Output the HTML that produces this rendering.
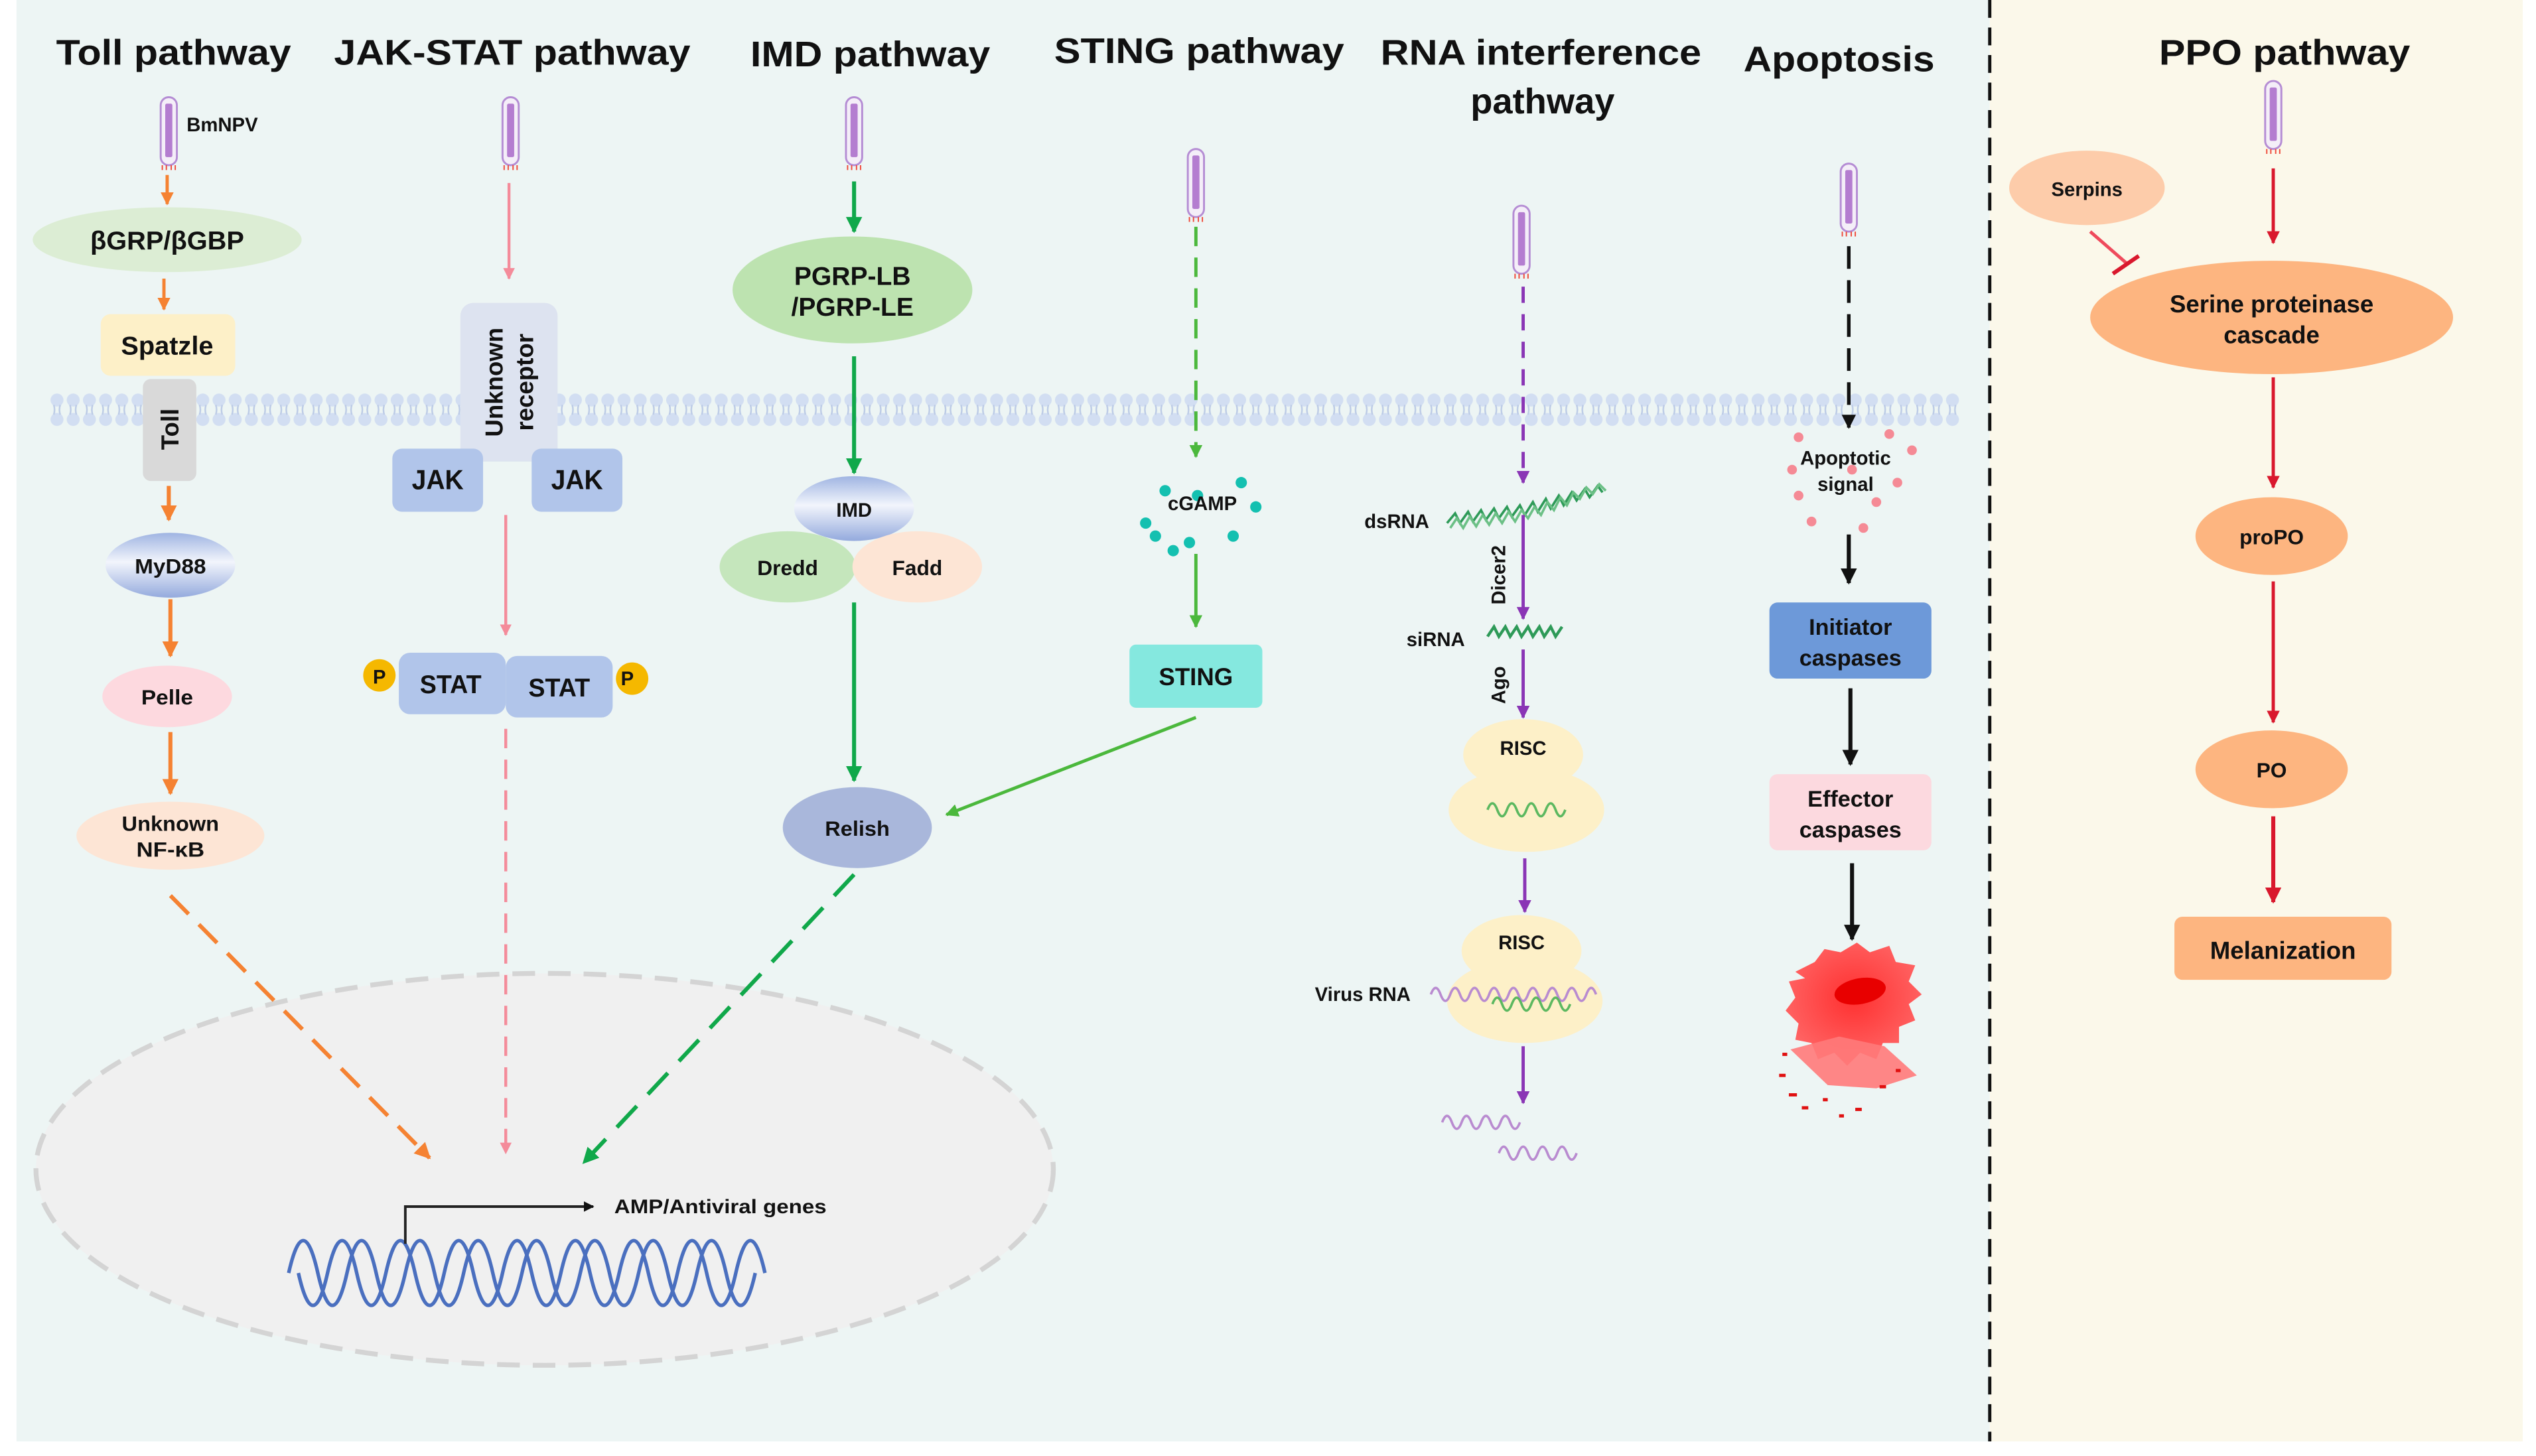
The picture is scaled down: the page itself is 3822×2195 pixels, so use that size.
<!DOCTYPE html>
<html><head><meta charset="utf-8"><style>
html,body{margin:0;padding:0;background:#fff;}
svg{display:block;}
text{font-family:"Liberation Sans",Arial,sans-serif;font-weight:bold;fill:#111;}
</style></head><body>
<svg width="3822" height="2195" viewBox="0 0 1565 899" xmlns="http://www.w3.org/2000/svg">
<defs>
<marker id="mo" viewBox="0 0 10 10" refX="9" refY="5" markerWidth="4" markerHeight="4" orient="auto"><path d="M0,0L10,5L0,10z" fill="#f58232"/></marker>
<marker id="mp" viewBox="0 0 10 10" refX="9" refY="5" markerWidth="4" markerHeight="4" orient="auto"><path d="M0,0L10,5L0,10z" fill="#f48b9a"/></marker>
<marker id="mg" viewBox="0 0 10 10" refX="9" refY="5" markerWidth="4" markerHeight="4" orient="auto"><path d="M0,0L10,5L0,10z" fill="#10a84a"/></marker>
<marker id="mg2" viewBox="0 0 10 10" refX="9" refY="5" markerWidth="4" markerHeight="4" orient="auto"><path d="M0,0L10,5L0,10z" fill="#4bb83c"/></marker>
<marker id="mv" viewBox="0 0 10 10" refX="9" refY="5" markerWidth="4" markerHeight="4" orient="auto"><path d="M0,0L10,5L0,10z" fill="#8a35b5"/></marker>
<marker id="mk" viewBox="0 0 10 10" refX="9" refY="5" markerWidth="4" markerHeight="4" orient="auto"><path d="M0,0L10,5L0,10z" fill="#111"/></marker>
<marker id="mr" viewBox="0 0 10 10" refX="9" refY="5" markerWidth="4" markerHeight="4" orient="auto"><path d="M0,0L10,5L0,10z" fill="#d9182d"/></marker>
<linearGradient id="gb" x1="0" y1="0" x2="0" y2="1"><stop offset="0" stop-color="#9fb4e2"/><stop offset="0.45" stop-color="#f2f5fc"/><stop offset="1" stop-color="#94aadd"/></linearGradient>
<radialGradient id="gc" cx="0.5" cy="0.45" r="0.6"><stop offset="0" stop-color="#ff3030"/><stop offset="1" stop-color="#ff6a6a"/></radialGradient>
<pattern id="mem" x="30" y="243" width="10" height="20" patternUnits="userSpaceOnUse">
<circle cx="5" cy="4" r="4" fill="#d2def2"/><circle cx="5" cy="16" r="4" fill="#d2def2"/>
<path d="M3,7 Q4,10 3,13 M7,7 Q6,10 7,13" stroke="#bccbe6" stroke-width="1" fill="none"/>
</pattern>
<g id="vir">
<rect x="-5" y="0" width="10" height="42" rx="5" fill="#f4eef8" stroke="#b58dd4" stroke-width="1.2"/>
<rect x="-2.2" y="4" width="4.4" height="33" rx="1" fill="#b47dd0"/>
<path d="M-4,42v3M-1.5,42v3M1.5,42v3M4,42v3" stroke="#f04a3a" stroke-width="0.8"/>
</g>
</defs>
<rect x="0" y="0" width="1565" height="899" fill="#fff"/>
<rect x="10" y="0" width="1218" height="890" fill="#edf5f4"/>
<rect x="1228" y="0" width="329" height="890" fill="#fbf8ea"/>
<line x1="1228" y1="0" x2="1228" y2="890" stroke="#111" stroke-width="2" stroke-dasharray="11,6"/>

<g font-size="22" text-anchor="middle">
<text x="107" y="40" textLength="145" lengthAdjust="spacingAndGlyphs">Toll pathway</text>
<text x="316" y="40" textLength="220" lengthAdjust="spacingAndGlyphs">JAK-STAT pathway</text>
<text x="537" y="41" textLength="148" lengthAdjust="spacingAndGlyphs">IMD pathway</text>
<text x="740" y="39" textLength="179" lengthAdjust="spacingAndGlyphs">STING pathway</text>
<text x="951" y="40" textLength="198" lengthAdjust="spacingAndGlyphs">RNA interference</text>
<text x="952" y="70" textLength="89" lengthAdjust="spacingAndGlyphs">pathway</text>
<text x="1135" y="44" textLength="118" lengthAdjust="spacingAndGlyphs">Apoptosis</text>
<text x="1410" y="40" textLength="155" lengthAdjust="spacingAndGlyphs">PPO pathway</text>
</g>

<rect x="30" y="243" width="1180" height="20" fill="url(#mem)"/>

<ellipse cx="336" cy="722" rx="314" ry="121" fill="#f0f0f0" stroke="#d4d4d4" stroke-width="3" stroke-dasharray="14,8"/>
<g fill="none" stroke="#4a6fbf" stroke-width="2.2">
<path d="M178,786 q9,-40 18,0 t18,0 t18,0 t18,0 t18,0 t18,0 t18,0 t18,0 t18,0 t18,0 t18,0 t18,0 t18,0 t18,0 t18,0 t18,0"/>
<path d="M184,766 q9,40 18,0 t18,0 t18,0 t18,0 t18,0 t18,0 t18,0 t18,0 t18,0 t18,0 t18,0 t18,0 t18,0 t18,0 t18,0 t18,0" transform="translate(0,20)"/>
</g>
<path d="M250,768 V745 H366" fill="none" stroke="#222" stroke-width="1.6" marker-end="url(#mk)"/>
<text x="379" y="749" font-size="12" textLength="131" lengthAdjust="spacingAndGlyphs">AMP/Antiviral genes</text>

<use href="#vir" x="104" y="60"/>
<text x="115" y="81" font-size="12">BmNPV</text>
<line x1="103" y1="108" x2="103" y2="126" stroke="#f58232" stroke-width="2" marker-end="url(#mo)"/>
<ellipse cx="103" cy="148" rx="83" ry="20" fill="#dcedd4"/>
<text x="103" y="154" font-size="16" text-anchor="middle" textLength="95" lengthAdjust="spacingAndGlyphs">βGRP/βGBP</text>
<line x1="101" y1="172" x2="101" y2="191" stroke="#f58232" stroke-width="2" marker-end="url(#mo)"/>
<rect x="62" y="194" width="83" height="38" rx="6" fill="#fdf0c8"/>
<text x="103" y="219" font-size="16" text-anchor="middle" textLength="57" lengthAdjust="spacingAndGlyphs">Spatzle</text>
<rect x="88" y="234" width="33" height="63" rx="5" fill="#d9d9d9"/>
<text transform="translate(110,265) rotate(-90)" font-size="15" text-anchor="middle">Toll</text>
<line x1="104" y1="300" x2="104" y2="321" stroke="#f58232" stroke-width="2.5" marker-end="url(#mo)"/>
<ellipse cx="105" cy="349" rx="40" ry="20" fill="url(#gb)"/>
<text x="105" y="354" font-size="13" text-anchor="middle" textLength="44" lengthAdjust="spacingAndGlyphs">MyD88</text>
<line x1="105" y1="370" x2="105" y2="405" stroke="#f58232" stroke-width="2.5" marker-end="url(#mo)"/>
<ellipse cx="103" cy="430" rx="40" ry="19" fill="#fdd9df"/>
<text x="103" y="435" font-size="13" text-anchor="middle" textLength="32" lengthAdjust="spacingAndGlyphs">Pelle</text>
<line x1="105" y1="452" x2="105" y2="490" stroke="#f58232" stroke-width="2.5" marker-end="url(#mo)"/>
<ellipse cx="105" cy="516" rx="58" ry="21" fill="#fde5d5"/>
<text x="105" y="513" font-size="13" text-anchor="middle" textLength="60" lengthAdjust="spacingAndGlyphs">Unknown</text>
<text x="105" y="529" font-size="13" text-anchor="middle" textLength="42" lengthAdjust="spacingAndGlyphs">NF-κB</text>
<line x1="105" y1="553" x2="265" y2="715" stroke="#f58232" stroke-width="2.5" stroke-dasharray="16,9" marker-end="url(#mo)"/>

<use href="#vir" x="315" y="60"/>
<line x1="314" y1="113" x2="314" y2="172" stroke="#f48b9a" stroke-width="1.8" marker-end="url(#mp)"/>
<rect x="284" y="187" width="60" height="98" rx="8" fill="#dde3f0"/>
<text transform="translate(310,236) rotate(-90)" font-size="15" text-anchor="middle">Unknown</text>
<text transform="translate(329,236) rotate(-90)" font-size="15" text-anchor="middle">receptor</text>
<rect x="242" y="277" width="56" height="39" rx="6" fill="#b1c5ea"/>
<rect x="328" y="277" width="56" height="39" rx="6" fill="#b1c5ea"/>
<text x="270" y="302" font-size="17" text-anchor="middle" textLength="32" lengthAdjust="spacingAndGlyphs">JAK</text>
<text x="356" y="302" font-size="17" text-anchor="middle" textLength="32" lengthAdjust="spacingAndGlyphs">JAK</text>
<line x1="312" y1="318" x2="312" y2="392" stroke="#f48b9a" stroke-width="1.8" marker-end="url(#mp)"/>
<circle cx="234" cy="417" r="10" fill="#f5b800"/><circle cx="390" cy="419" r="10" fill="#f5b800"/>
<text x="234" y="422" font-size="12" text-anchor="middle">P</text>
<text x="387" y="423" font-size="12" text-anchor="middle">P</text>
<rect x="246" y="403" width="66" height="38" rx="7" fill="#b1c5ea"/>
<rect x="312" y="405" width="66" height="38" rx="7" fill="#b1c5ea"/>
<text x="278" y="428" font-size="16" text-anchor="middle" textLength="38" lengthAdjust="spacingAndGlyphs">STAT</text>
<text x="345" y="430" font-size="16" text-anchor="middle" textLength="38" lengthAdjust="spacingAndGlyphs">STAT</text>
<line x1="312" y1="450" x2="312" y2="712" stroke="#f48b9a" stroke-width="1.8" stroke-dasharray="12,7" marker-end="url(#mp)"/>

<use href="#vir" x="527" y="60"/>
<line x1="527" y1="112" x2="527" y2="143" stroke="#10a84a" stroke-width="2.5" marker-end="url(#mg)"/>
<ellipse cx="526" cy="179" rx="74" ry="33" fill="#bde3b0"/>
<text x="526" y="176" font-size="16" text-anchor="middle">PGRP-LB</text>
<text x="526" y="195" font-size="16" text-anchor="middle">/PGRP-LE</text>
<line x1="527" y1="220" x2="527" y2="292" stroke="#10a84a" stroke-width="2.5" marker-end="url(#mg)"/>
<ellipse cx="527" cy="314" rx="37" ry="20" fill="url(#gb)"/>
<text x="527" y="319" font-size="12" text-anchor="middle">IMD</text>
<ellipse cx="486" cy="350" rx="42" ry="22" fill="#c5e6bc"/>
<ellipse cx="566" cy="350" rx="40" ry="22" fill="#fde5d5"/>
<text x="486" y="355" font-size="13" text-anchor="middle">Dredd</text>
<text x="566" y="355" font-size="13" text-anchor="middle">Fadd</text>
<line x1="527" y1="372" x2="527" y2="482" stroke="#10a84a" stroke-width="2.5" marker-end="url(#mg)"/>
<ellipse cx="529" cy="511" rx="46" ry="25" fill="#a9b7db"/>
<text x="529" y="516" font-size="13" text-anchor="middle" textLength="40" lengthAdjust="spacingAndGlyphs">Relish</text>
<line x1="527" y1="540" x2="360" y2="718" stroke="#10a84a" stroke-width="2.5" stroke-dasharray="18,10" marker-end="url(#mg)"/>

<use href="#vir" x="738" y="92"/>
<line x1="738" y1="140" x2="738" y2="282" stroke="#4bb83c" stroke-width="2" stroke-dasharray="12,7" marker-end="url(#mg2)"/>
<g fill="#14c0b0">
<circle cx="719" cy="303" r="3.5"/><circle cx="739" cy="306" r="3.5"/><circle cx="766" cy="298" r="3.5"/>
<circle cx="707" cy="323" r="3.5"/><circle cx="775" cy="313" r="3.5"/><circle cx="713" cy="331" r="3.5"/>
<circle cx="734" cy="335" r="3.5"/><circle cx="761" cy="331" r="3.5"/><circle cx="724" cy="340" r="3.5"/>
</g>
<text x="742" y="315" font-size="12" text-anchor="middle">cGAMP</text>
<line x1="738" y1="342" x2="738" y2="387" stroke="#4bb83c" stroke-width="2" marker-end="url(#mg2)"/>
<rect x="697" y="398" width="82" height="39" rx="4" fill="#85e8df"/>
<text x="738" y="423" font-size="15" text-anchor="middle">STING</text>
<line x1="738" y1="443" x2="584" y2="503" stroke="#4bb83c" stroke-width="2" marker-end="url(#mg2)"/>

<use href="#vir" x="939" y="127"/>
<line x1="940" y1="177" x2="940" y2="298" stroke="#8a35b5" stroke-width="2" stroke-dasharray="10,7" marker-end="url(#mv)"/>
<text x="862" y="326" font-size="12" text-anchor="middle">dsRNA</text>
<g fill="none" stroke="#2e9a58" stroke-width="1.5">
<path d="M893,323 l5,-6 l3,6 l5,-7 l3,6 l5,-7 l3,6 l5,-7 l3,6 l5,-7 l3,6 l5,-7 l3,6 l5,-8 l3,6 l5,-8 l3,6 l5,-8 l3,6 l5,-8 l3,5 l5,-7 l3,5 l5,-7 l3,4"/>
<path d="M895,326 l4,-6 l4,6 l4,-7 l4,6 l4,-7 l4,6 l4,-7 l4,6 l4,-7 l4,6 l4,-7 l4,5 l4,-7 l4,5 l4,-8 l4,5 l4,-8 l4,5 l4,-8 l4,4 l4,-7 l4,4 l4,-6 l4,4" stroke="#6cc086"/>
</g>
<line x1="940" y1="318" x2="940" y2="382" stroke="#8a35b5" stroke-width="2" marker-end="url(#mv)"/>
<text transform="translate(929,355) rotate(-90)" font-size="12" text-anchor="middle">Dicer2</text>
<text x="886" y="399" font-size="12" text-anchor="middle">siRNA</text>
<path d="M918,393 l4,-6 l3,6 l4,-6 l3,6 l4,-6 l3,6 l4,-6 l3,6 l4,-6 l3,6 l4,-6 l3,6 l4,-6" fill="none" stroke="#2e9a58" stroke-width="1.8"/>
<line x1="940" y1="401" x2="940" y2="443" stroke="#8a35b5" stroke-width="2" marker-end="url(#mv)"/>
<text transform="translate(929,423) rotate(-90)" font-size="12" text-anchor="middle">Ago</text>
<g fill="#fdf0c8">
<ellipse cx="940" cy="466" rx="37" ry="22"/><ellipse cx="942" cy="500" rx="48" ry="26"/>
<ellipse cx="939" cy="587" rx="37" ry="22"/><ellipse cx="941" cy="618" rx="48" ry="26"/>
</g>
<text x="940" y="466" font-size="12" text-anchor="middle">RISC</text>
<text x="939" y="586" font-size="12" text-anchor="middle">RISC</text>
<path d="M918,500 q3,-8 6,0 t6,0 t6,0 t6,0 t6,0 t6,0 t6,0 t6,0" fill="none" stroke="#5cb860" stroke-width="1.5"/>
<line x1="941" y1="530" x2="941" y2="563" stroke="#8a35b5" stroke-width="2" marker-end="url(#mv)"/>
<text x="841" y="618" font-size="12" text-anchor="middle">Virus RNA</text>
<path d="M883,614 q3,-8 6,0 t6,0 t6,0 t6,0 t6,0 t6,0 t6,0 t6,0 t6,0 t6,0 t6,0 t6,0 t6,0 t6,0 t6,0 t6,0 t6,0" fill="none" stroke="#b98bd0" stroke-width="1.5"/>
<path d="M921,620 q3,-8 6,0 t6,0 t6,0 t6,0 t6,0 t6,0 t6,0 t6,0" fill="none" stroke="#5cb860" stroke-width="1.5"/>
<line x1="940" y1="646" x2="940" y2="681" stroke="#8a35b5" stroke-width="2" marker-end="url(#mv)"/>
<path d="M890,693 q3,-8 6,0 t6,0 t6,0 t6,0 t6,0 t6,0 t6,0 t6,0" fill="none" stroke="#b98bd0" stroke-width="1.5"/>
<path d="M925,712 q3,-8 6,0 t6,0 t6,0 t6,0 t6,0 t6,0 t6,0 t6,0" fill="none" stroke="#b98bd0" stroke-width="1.5"/>

<use href="#vir" x="1141" y="101"/>
<line x1="1141" y1="152" x2="1141" y2="264" stroke="#111" stroke-width="2.2" stroke-dasharray="14,7" marker-end="url(#mk)"/>
<g fill="#f58a95">
<circle cx="1110" cy="270" r="3"/><circle cx="1166" cy="268" r="3"/><circle cx="1180" cy="278" r="3"/>
<circle cx="1106" cy="290" r="3"/><circle cx="1143" cy="290" r="3"/><circle cx="1171" cy="298" r="3"/>
<circle cx="1110" cy="306" r="3"/><circle cx="1158" cy="310" r="3"/><circle cx="1118" cy="322" r="3"/>
<circle cx="1150" cy="326" r="3"/>
</g>
<text x="1139" y="287" font-size="12" text-anchor="middle">Apoptotic</text>
<text x="1139" y="303" font-size="12" text-anchor="middle">signal</text>
<line x1="1141" y1="330" x2="1141" y2="360" stroke="#111" stroke-width="2.5" marker-end="url(#mk)"/>
<rect x="1092" y="372" width="100" height="47" rx="5" fill="#6d99d9"/>
<text x="1142" y="392" font-size="14" text-anchor="middle">Initiator</text>
<text x="1142" y="411" font-size="14" text-anchor="middle">caspases</text>
<line x1="1142" y1="425" x2="1142" y2="472" stroke="#111" stroke-width="2.5" marker-end="url(#mk)"/>
<rect x="1092" y="478" width="100" height="47" rx="5" fill="#fcd9df"/>
<text x="1142" y="498" font-size="14" text-anchor="middle">Effector</text>
<text x="1142" y="517" font-size="14" text-anchor="middle">caspases</text>
<line x1="1143" y1="533" x2="1143" y2="580" stroke="#111" stroke-width="2.5" marker-end="url(#mk)"/>
<path d="M1108,600 l12,-6 l6,-8 l10,2 l10,-6 l8,6 l12,-4 l4,10 l12,2 l-4,10 l8,8 l-8,6 l4,10 l-10,4 l0,10 l-10,0 l-4,10 l-10,-4 l-8,8 l-8,-8 l-10,4 l-4,-10 l-10,-2 l2,-10 l-8,-8 l6,-8 l-4,-10 l10,-2 z" fill="url(#gc)"/>
<path d="M1105,648 l30,-8 l28,6 l20,18 l-25,8 l-30,-2 z" fill="#ff7a7a" opacity="0.9"/>
<ellipse cx="1148" cy="612" rx="16" ry="8" fill="#e80000" transform="rotate(-10 1148 612)"/>
<g fill="#e01010">
<rect x="1098" y="663" width="4" height="2"/><rect x="1104" y="675" width="5" height="2"/><rect x="1112" y="683" width="4" height="2"/>
<rect x="1125" y="678" width="3" height="2"/><rect x="1160" y="670" width="4" height="2"/><rect x="1170" y="660" width="3" height="2"/>
<rect x="1145" y="684" width="4" height="2"/><rect x="1100" y="650" width="3" height="2"/><rect x="1135" y="688" width="3" height="2"/>
</g>

<use href="#vir" x="1403" y="50"/>
<line x1="1403" y1="104" x2="1403" y2="150" stroke="#d9182d" stroke-width="2" marker-end="url(#mr)"/>
<ellipse cx="1288" cy="116" rx="48" ry="23" fill="#fdccaa"/>
<text x="1288" y="121" font-size="12" text-anchor="middle">Serpins</text>
<line x1="1290" y1="143" x2="1313" y2="163" stroke="#ef4a5c" stroke-width="2"/>
<line x1="1304" y1="169" x2="1320" y2="158" stroke="#d9182d" stroke-width="2.5"/>
<ellipse cx="1402" cy="196" rx="112" ry="35" fill="#fdb580"/>
<text x="1402" y="193" font-size="15" text-anchor="middle">Serine proteinase</text>
<text x="1402" y="212" font-size="15" text-anchor="middle">cascade</text>
<line x1="1403" y1="233" x2="1403" y2="301" stroke="#d9182d" stroke-width="2" marker-end="url(#mr)"/>
<ellipse cx="1402" cy="331" rx="47" ry="24" fill="#fdb580"/>
<text x="1402" y="336" font-size="13" text-anchor="middle">proPO</text>
<line x1="1403" y1="359" x2="1403" y2="446" stroke="#d9182d" stroke-width="2" marker-end="url(#mr)"/>
<ellipse cx="1402" cy="475" rx="47" ry="24" fill="#fdb580"/>
<text x="1402" y="480" font-size="13" text-anchor="middle">PO</text>
<line x1="1403" y1="504" x2="1403" y2="557" stroke="#d9182d" stroke-width="2.5" marker-end="url(#mr)"/>
<rect x="1342" y="566" width="134" height="39" rx="5" fill="#fdb580"/>
<text x="1409" y="592" font-size="15" text-anchor="middle">Melanization</text>
</svg>
</body></html>
